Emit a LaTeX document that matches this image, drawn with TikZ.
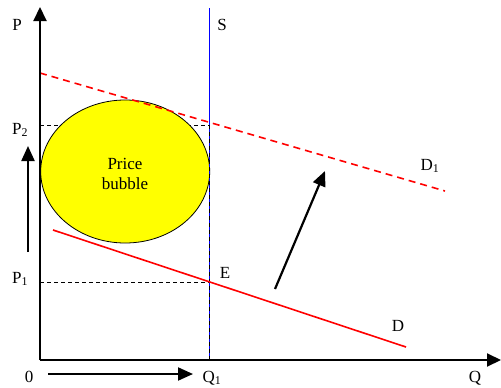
\documentclass[tikz,border=0pt]{standalone}
\usepackage{fontspec}
\setmainfont{Liberation Serif}
\usetikzlibrary{arrows.meta,shapes.geometric,calc}
\definecolor{sblue}{RGB}{0,0,255}
\definecolor{dred}{RGB}{255,0,0}
\definecolor{byellow}{RGB}{255,255,0}
\begin{document}
\begin{tikzpicture}[x=1pt,y=-1pt,
  lbl/.style={font=\fontsize{17}{20}\selectfont, inner sep=0pt},
  axis/.style={line width=2pt, -{Triangle[length=14pt,width=13pt]}},
  bigarrow/.style={line width=2.2pt, -{Triangle[length=15pt,width=13pt]}},
  guide/.style={dash pattern=on 4pt off 3pt, line width=0.8pt},
  demand/.style={dred, line width=1.6pt}]
\useasboundingbox (0,0) rectangle (501,388);
% coordinates
\coordinate (O) at (40,360);
\coordinate (Ytop) at (40,7);
\coordinate (Xend) at (501,360);
\coordinate (Stop) at (209.5,8);
\coordinate (Sbot) at (209.5,359);
\coordinate (P2l) at (40,125);
\coordinate (P2r) at (209.5,125);
\coordinate (P1l) at (40,282);
\coordinate (E) at (209.5,282);
\coordinate (Da) at (53,230);
\coordinate (Db) at (406,347);
\coordinate (D1a) at (40,73);
\coordinate (D1b) at (445,191);
\coordinate (sh1) at (275,289);
\coordinate (sh2) at (325,171);
\coordinate (up1) at (28,252);
\coordinate (up2) at (28,146);
\coordinate (rt1) at (48,374);
\coordinate (rt2) at (193,374);
% guides
\draw[guide] (P2l) -- (P2r);
\draw[guide] (P1l) -- (E);
% bubble
\node[draw=black, fill=byellow, line width=0.8pt, ellipse, minimum width=169pt, minimum height=143pt, inner sep=0pt] (bub) at (125.2,171.5) {};
\node[lbl, align=center] (bubtxt) at (125,174) {Price\\bubble};
% supply
\path[fill=sblue] ($(Stop)+(-0.8,0)$) rectangle ($(Sbot)+(0.8,0)$);
\draw[guide] (P2r) -- (Sbot);
% demand curves
\draw[demand] (Da) -- (Db);
\draw[demand, dash pattern=on 7pt off 5pt] (D1a) -- (D1b);
% axes
\draw[axis] (O) -- (Ytop);
\draw[axis] (O) -- (Xend);
% shift arrows
\draw[bigarrow] (sh1) -- (sh2);
\draw[bigarrow] (up1) -- (up2);
\draw[bigarrow, line width=2pt] (rt1) -- (rt2);
% labels
\node[lbl] (Plbl) at (17,25) {P};
\node[lbl] (Slbl) at (222,25) {S};
\node[lbl] (P2lbl) at (20,130) {P\textsubscript{2}};
\node[lbl] (P1lbl) at (20,279) {P\textsubscript{1}};
\node[lbl] (Elbl) at (225,273) {E};
\node[lbl] (D1lbl) at (430,166) {D\textsubscript{1}};
\node[lbl] (Dlbl) at (398,326) {D};
\node[lbl] (zero) at (29,377) {0};
\node[lbl] (Q1lbl) at (212,378) {Q\textsubscript{1}};
\node[lbl] (Qlbl) at (475,378) {Q};
\end{tikzpicture}
\end{document}
